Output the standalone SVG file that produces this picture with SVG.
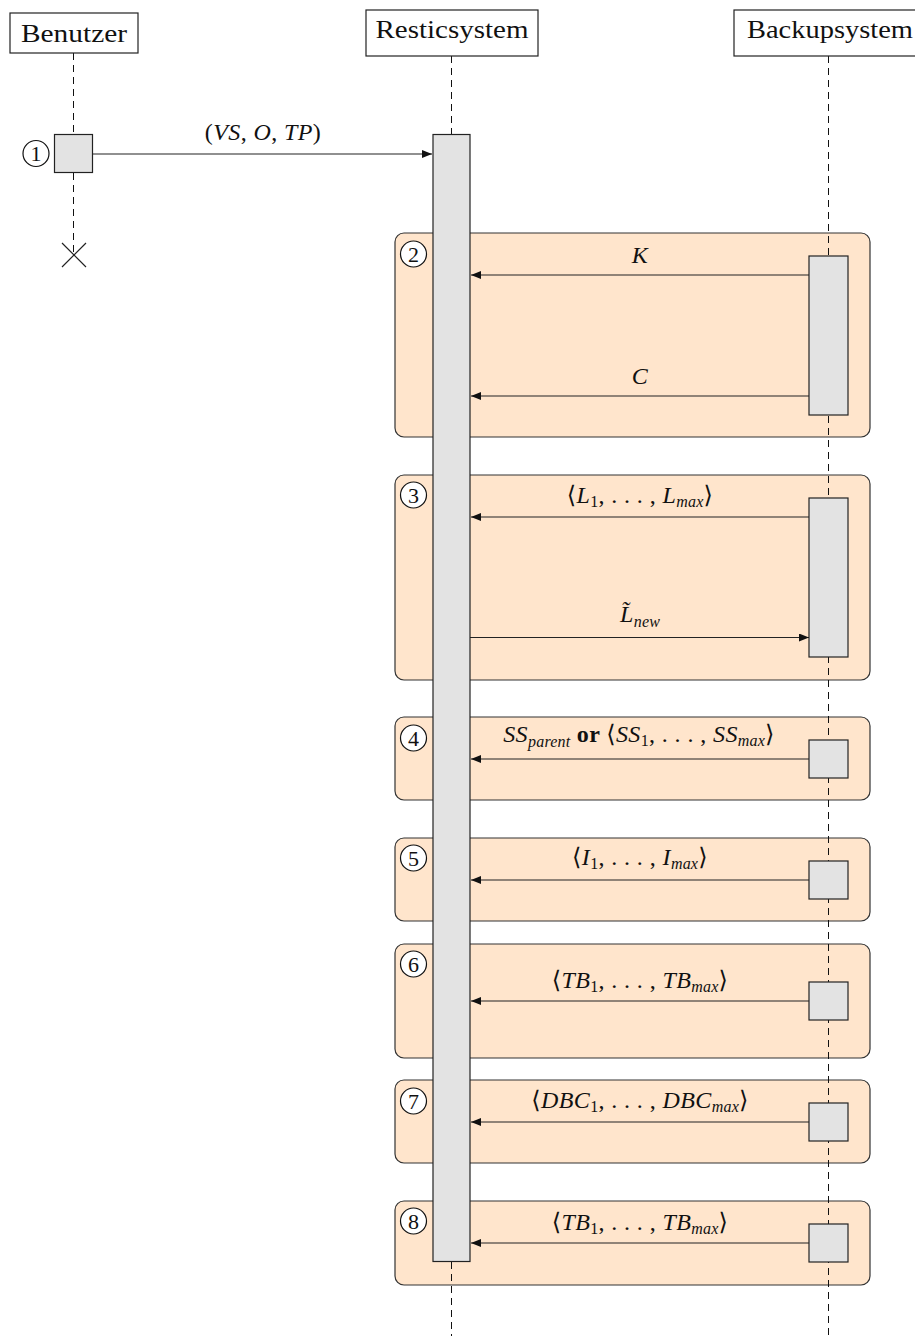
<svg xmlns="http://www.w3.org/2000/svg" width="915" height="1340" viewBox="0 0 915 1340">
<style>
.hdr{fill:#fff;stroke:#222;stroke-width:1.2}
.ht{font-family:"Liberation Serif","DejaVu Serif",serif;font-size:26px;fill:#111;text-anchor:middle}
.life{stroke:#111;stroke-width:1;stroke-dasharray:7 5;fill:none}
.act{fill:#e3e3e3;stroke:#222;stroke-width:1.2}
.frame{fill:#ffe5cc;stroke:#333;stroke-width:1.2}
.msg{stroke:#222;stroke-width:1.2;fill:none;marker-end:url(#ah)}
.lab{font-family:"Liberation Serif","DejaVu Serif",serif;font-size:24px;fill:#111;text-anchor:middle;letter-spacing:0.4px}
.i{font-style:italic}
.sub{font-size:16px;letter-spacing:0.2px}
.num{fill:#fff;stroke:#111;stroke-width:1.2}
.nt{font-family:"Liberation Serif","DejaVu Serif",serif;font-size:22px;fill:#111;text-anchor:middle}
</style>
<defs>
<marker id="ah" viewBox="0 0 10 8" refX="10" refY="4" markerWidth="10" markerHeight="8" markerUnits="userSpaceOnUse" orient="auto">
<path d="M0,0 L10,4 L0,8 z" fill="#111"/>
</marker>
</defs>

<g id="frames">
<g id="frame2"><rect class="frame" x="395" y="233" width="475" height="204" rx="9"/><circle class="num" cx="413.5" cy="254" r="13"/><text class="nt" x="413.5" y="261.5">2</text></g>
<g id="frame3"><rect class="frame" x="395" y="475" width="475" height="205" rx="9"/><circle class="num" cx="413.5" cy="495" r="13"/><text class="nt" x="413.5" y="502.5">3</text></g>
<g id="frame4"><rect class="frame" x="395" y="717" width="475" height="83" rx="9"/><circle class="num" cx="413.5" cy="738" r="13"/><text class="nt" x="413.5" y="745.5">4</text></g>
<g id="frame5"><rect class="frame" x="395" y="838" width="475" height="83" rx="9"/><circle class="num" cx="413.5" cy="858" r="13"/><text class="nt" x="413.5" y="865.5">5</text></g>
<g id="frame6"><rect class="frame" x="395" y="944" width="475" height="114" rx="9"/><circle class="num" cx="413.5" cy="964" r="13"/><text class="nt" x="413.5" y="971.5">6</text></g>
<g id="frame7"><rect class="frame" x="395" y="1080" width="475" height="83" rx="9"/><circle class="num" cx="413.5" cy="1101" r="13"/><text class="nt" x="413.5" y="1108.5">7</text></g>
<g id="frame8"><rect class="frame" x="395" y="1201" width="475" height="84" rx="9"/><circle class="num" cx="413.5" cy="1221" r="13"/><text class="nt" x="413.5" y="1228.5">8</text></g>
</g>

<g id="lifelines">
<line class="life" x1="73.5" y1="53" x2="73.5" y2="134"/>
<line class="life" x1="73.5" y1="173" x2="73.5" y2="255"/>
<line class="life" x1="451.5" y1="56" x2="451.5" y2="134"/>
<line class="life" x1="451.5" y1="1262" x2="451.5" y2="1336"/>
<line class="life" x1="828.5" y1="56" x2="828.5" y2="1340"/>
</g>

<g id="benutzer">
<rect class="hdr" x="10" y="13" width="128" height="40"/>
<text class="ht" x="74" y="42" textLength="106" lengthAdjust="spacingAndGlyphs">Benutzer</text>
<rect class="act" x="54.5" y="134.5" width="38" height="38"/>
<circle class="num" cx="36" cy="153.5" r="13"/><text class="nt" x="36" y="161">1</text>
<path d="M62,243 L86,267 M86,243 L62,267" stroke="#222" stroke-width="1.2"/>
</g>

<g id="resticsystem">
<rect class="hdr" x="366" y="10" width="172" height="46"/>
<text class="ht" x="452" y="38" textLength="153" lengthAdjust="spacingAndGlyphs">Resticsystem</text>
<rect class="act" x="433" y="134.5" width="37" height="1127"/>
</g>

<g id="backupsystem">
<rect class="hdr" x="734" y="10" width="195" height="46"/>
<text class="ht" x="830" y="38" textLength="166" lengthAdjust="spacingAndGlyphs">Backupsystem</text>
<rect class="act" x="809" y="256" width="39" height="159"/>
<rect class="act" x="809" y="498" width="39" height="159"/>
<rect class="act" x="809" y="740" width="39" height="38"/>
<rect class="act" x="809" y="861" width="39" height="38"/>
<rect class="act" x="809" y="982" width="39" height="38"/>
<rect class="act" x="809" y="1103" width="39" height="38"/>
<rect class="act" x="809" y="1224" width="39" height="38"/>
</g>

<g id="connectors">
<line class="msg" x1="93" y1="154" x2="432" y2="154"/>
<line class="msg" x1="809" y1="275" x2="471" y2="275"/>
<line class="msg" x1="809" y1="396" x2="471" y2="396"/>
<line class="msg" x1="809" y1="517" x2="471" y2="517"/>
<line class="msg" x1="470" y1="637.5" x2="809" y2="637.5"/>
<line class="msg" x1="809" y1="759" x2="471" y2="759"/>
<line class="msg" x1="809" y1="880" x2="471" y2="880"/>
<line class="msg" x1="809" y1="1001" x2="471" y2="1001"/>
<line class="msg" x1="809" y1="1122" x2="471" y2="1122"/>
<line class="msg" x1="809" y1="1243" x2="471" y2="1243"/>
</g>

<g id="labels">
<text class="lab" x="263" y="140">(<tspan class="i">VS</tspan>, <tspan class="i">O</tspan>, <tspan class="i">TP</tspan>)</text>
<text class="lab" x="640" y="263"><tspan class="i">K</tspan></text>
<text class="lab" x="640" y="384"><tspan class="i">C</tspan></text>
<text class="lab" x="640" y="503">⟨<tspan class="i">L</tspan><tspan class="sub" dy="4">1</tspan><tspan dy="-4">, . . . , </tspan><tspan class="i">L</tspan><tspan class="i sub" dy="4">max</tspan><tspan dy="-4">⟩</tspan></text>
<text class="lab" x="640" y="622"><tspan class="i">L̃</tspan><tspan class="i sub" dy="5">new</tspan></text>
<text class="lab" x="639" y="742"><tspan class="i">SS</tspan><tspan class="i sub" dy="5">parent</tspan><tspan dy="-5" font-weight="bold"> or </tspan><tspan>⟨</tspan><tspan class="i">SS</tspan><tspan class="sub" dy="4">1</tspan><tspan dy="-4">, . . . , </tspan><tspan class="i">SS</tspan><tspan class="i sub" dy="4">max</tspan><tspan dy="-4">⟩</tspan></text>
<text class="lab" x="640" y="865">⟨<tspan class="i">I</tspan><tspan class="sub" dy="4">1</tspan><tspan dy="-4">, . . . , </tspan><tspan class="i">I</tspan><tspan class="i sub" dy="4">max</tspan><tspan dy="-4">⟩</tspan></text>
<text class="lab" x="640" y="988">⟨<tspan class="i">TB</tspan><tspan class="sub" dy="4">1</tspan><tspan dy="-4">, . . . , </tspan><tspan class="i">TB</tspan><tspan class="i sub" dy="4">max</tspan><tspan dy="-4">⟩</tspan></text>
<text class="lab" x="640" y="1108">⟨<tspan class="i">DBC</tspan><tspan class="sub" dy="4">1</tspan><tspan dy="-4">, . . . , </tspan><tspan class="i">DBC</tspan><tspan class="i sub" dy="4">max</tspan><tspan dy="-4">⟩</tspan></text>
<text class="lab" x="640" y="1230">⟨<tspan class="i">TB</tspan><tspan class="sub" dy="4">1</tspan><tspan dy="-4">, . . . , </tspan><tspan class="i">TB</tspan><tspan class="i sub" dy="4">max</tspan><tspan dy="-4">⟩</tspan></text>
</g>
</svg>
